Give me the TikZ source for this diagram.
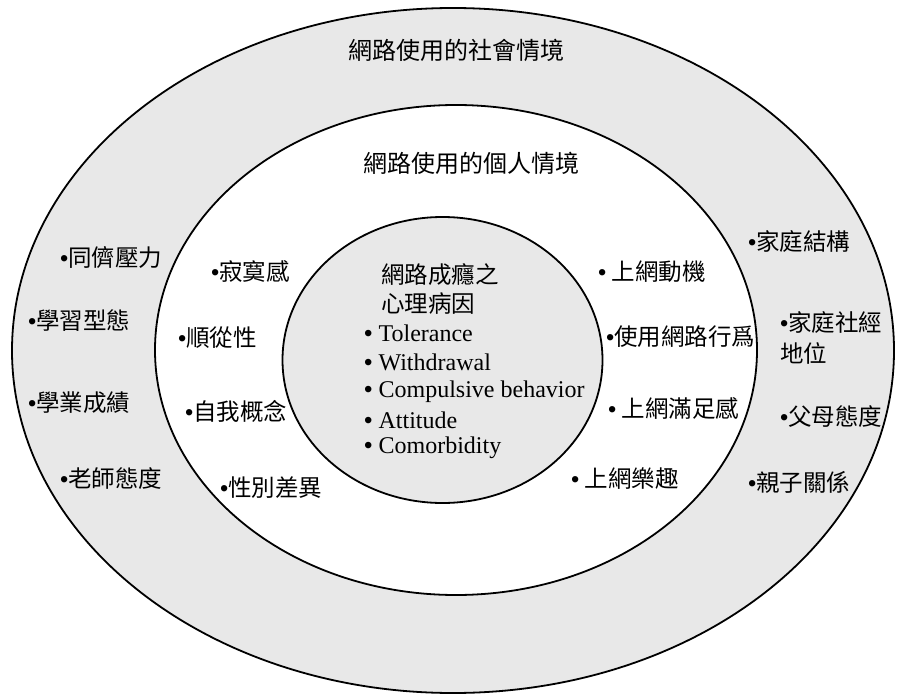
\documentclass[tikz,border=0pt]{standalone}
\usepackage{fontspec}
\setmainfont{Liberation Serif}
\newfontfamily\cjk{Noto Sans CJK TC}
\newfontfamily\bulfont{Liberation Sans}
\newcommand{\bu}{{\bulfont •}}
\definecolor{ringgray}{HTML}{E8E8E8}
\tikzset{
  ring/.style={draw=black, line width=1.8pt},
  lbl/.style={anchor=west, inner sep=0pt, font=\cjk\fontsize{23.5}{27}\selectfont},
  ctitle/.style={anchor=center, inner sep=0pt, font=\cjk\fontsize{24}{28}\selectfont},
  entxt/.style={anchor=west, inner sep=0pt, font=\rmfamily\fontsize{24}{28}\selectfont},
}
\begin{document}
\begin{tikzpicture}[x=1pt,y=-1pt]
\useasboundingbox (0,0) rectangle (899,695);
% rings
\fill[white] (0,0) rectangle (899,695);
\draw[ring, fill=ringgray] (453,350.5) ellipse [x radius=441pt, y radius=342.5pt];
\draw[ring, fill=white] (456,350) ellipse [x radius=301pt, y radius=245pt];
\draw[ring, fill=ringgray] (442.5,360) ellipse [x radius=160pt, y radius=143pt];
% titles
\node[ctitle] (t1) at (456,50) {網路使用的社會情境};
\node[ctitle] (t2) at (471,163) {網路使用的個人情境};
% outer left
\node[lbl] (o1) at (60,258) {\bu 同儕壓力};
\node[lbl] (o2) at (28,321) {\bu 學習型態};
\node[lbl] (o3) at (28,403) {\bu 學業成績};
\node[lbl] (o4) at (60,479) {\bu 老師態度};
% middle left
\node[lbl] (m1) at (211,271) {\bu 寂寞感};
\node[lbl] (m2) at (178,338) {\bu 順從性};
\node[lbl] (m3) at (185,411) {\bu 自我概念};
\node[lbl] (m4) at (220,488) {\bu 性別差異};
% inner
\node[lbl] (c1) at (381,275) {網路成癮之};
\node[lbl] (c2) at (381,304) {心理病因};
\node[entxt] (e1) at (364,333) {\bu\ Tolerance};
\node[entxt] (e2) at (364,362) {\bu\ Withdrawal};
\node[entxt] (e3) at (364,392) {\bu\ Compulsive behavior};
\node[entxt] (e4) at (364,420) {\bu\ Attitude};
\node[entxt] (e5) at (364,448) {\bu\ Comorbidity};
% middle right
\node[lbl] (r1) at (598,272) {\bu\ 上網動機};
\node[lbl] (r2) at (606,337) {\bu 使用網路行爲};
\node[lbl] (r3) at (608,408) {\bu\ 上網滿足感};
\node[lbl] (r4) at (571,479) {\bu\ 上網樂趣};
% outer right
\node[lbl] (s1) at (748,241) {\bu 家庭結構};
\node[lbl] (s2) at (780,322) {\bu 家庭社經};
\node[lbl] (s2b) at (780,353) {地位};
\node[lbl] (s3) at (780,417) {\bu 父母態度};
\node[lbl] (s4) at (748,482) {\bu 親子關係};
\end{tikzpicture}
\end{document}
